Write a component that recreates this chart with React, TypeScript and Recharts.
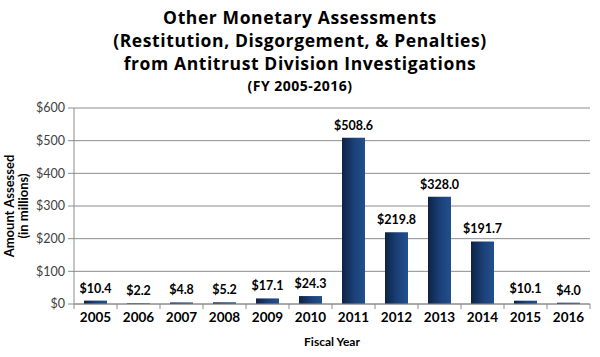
import React from 'react';
import { BarChart, Bar, XAxis, YAxis, CartesianGrid, LabelList, Label } from 'recharts';

const years = ['2005', '2006', '2007', '2008', '2009', '2010', '2011', '2012', '2013', '2014', '2015', '2016'];
const amounts = [10.4, 2.2, 4.8, 5.2, 17.1, 24.3, 508.6, 219.8, 328.0, 191.7, 10.1, 4.0];
const yTicks = [0, 100, 200, 300, 400, 500, 600];

const titleLines = [
  'Other Monetary Assessments',
  '(Restitution, Disgorgement, & Penalties)',
  'from Antitrust Division Investigations',
];

const data = years.map((year, i) => ({ year, amount: amounts[i] }));

const labelFont = 'Lato, "Open Sans", sans-serif';
const titleFont = '"Open Sans", "DejaVu Sans", sans-serif';
const gridColor = '#8c8c8c';

const YLabel = ({ viewBox }: any) => {
  const cy = viewBox.y + viewBox.height / 2;
  return (
    <g fontFamily={labelFont} fontSize={13} fontWeight={700} fill="#000">
      <text x={11} y={cy} textAnchor="middle" transform={`rotate(-90 11 ${cy})`} dominantBaseline="middle">
        Amount Assessed
      </text>
      <text x={25} y={cy} textAnchor="middle" transform={`rotate(-90 25 ${cy})`} dominantBaseline="middle">
        (in millions)
      </text>
    </g>
  );
};

// year label plus the small tick marks that sit between the categories
const YearTick = ({ x, y, payload, index, visibleTicksCount }: any) => {
  const half = payload.offset || 0;
  const last = index === visibleTicksCount - 1;
  return (
    <g>
      <line x1={x - half} x2={x - half} y1={y} y2={y + 5} stroke={gridColor} />
      {last && <line x1={x + half} x2={x + half} y1={y} y2={y + 5} stroke={gridColor} />}
      <text
        x={x}
        y={y + 18}
        textAnchor="middle"
        fontSize={13.5}
        fontWeight={700}
        fill="#000"
        fontFamily={labelFont}
      >
        {payload.value}
      </text>
    </g>
  );
};

export default function App() {
  return (
    <div style={{ position: 'absolute', left: 0, top: 0, width: 600, height: 357, background: '#fff' }}>
      <div
        style={{
          position: 'absolute',
          top: 6,
          left: 0,
          width: 600,
          textAlign: 'center',
          fontFamily: titleFont,
          fontWeight: 700,
          color: '#000',
        }}
      >
        {titleLines.map((t) => (
          <div key={t} style={{ fontSize: 17.5, lineHeight: '23px', letterSpacing: 0.6 }}>
            {t}
          </div>
        ))}
        <div style={{ fontSize: 14, lineHeight: '22px', letterSpacing: 0.5 }}>(FY 2005-2016)</div>
      </div>
      <BarChart
        width={600}
        height={357}
        data={data}
        margin={{ top: 108, right: 10, bottom: 0, left: 0 }}
        barCategoryGap={0}
        style={{ position: 'absolute', left: 0, top: 0 }}
      >
        <defs>
          <linearGradient id="barFill" x1="0" y1="0" x2="1" y2="0">
            <stop offset="0%" stopColor="#0e2344" />
            <stop offset="55%" stopColor="#1b417a" />
            <stop offset="100%" stopColor="#22508c" />
          </linearGradient>
        </defs>
        <CartesianGrid vertical={false} stroke={gridColor} />
        <YAxis
          width={74}
          domain={[0, 600]}
          ticks={yTicks}
          interval={0}
          tickFormatter={(v: number) => `$${v}`}
          tick={{ fontSize: 12.5, fill: '#404040', fontFamily: labelFont }}
          stroke={gridColor}
          tickSize={6}
          tickMargin={3}
        >
          <Label content={<YLabel />} />
        </YAxis>
        <XAxis
          dataKey="year"
          height={53}
          stroke={gridColor}
          tickLine={false}
          tickSize={0}
          tickMargin={0}
          interval={0}
          tick={<YearTick />}
        >
          <Label
            value="Fiscal Year"
            position="insideBottom"
            offset={11}
            style={{ fontSize: 12, fontWeight: 700, fill: '#000', fontFamily: labelFont }}
          />
        </XAxis>
        <Bar dataKey="amount" fill="url(#barFill)" barSize={23} isAnimationActive={false}>
          <LabelList
            dataKey="amount"
            position="top"
            offset={8}
            formatter={(v: number) => `$${Number(v).toFixed(1)}`}
            style={{ fontSize: 12.5, fontWeight: 700, fill: '#000', fontFamily: labelFont }}
          />
        </Bar>
      </BarChart>
    </div>
  );
}
